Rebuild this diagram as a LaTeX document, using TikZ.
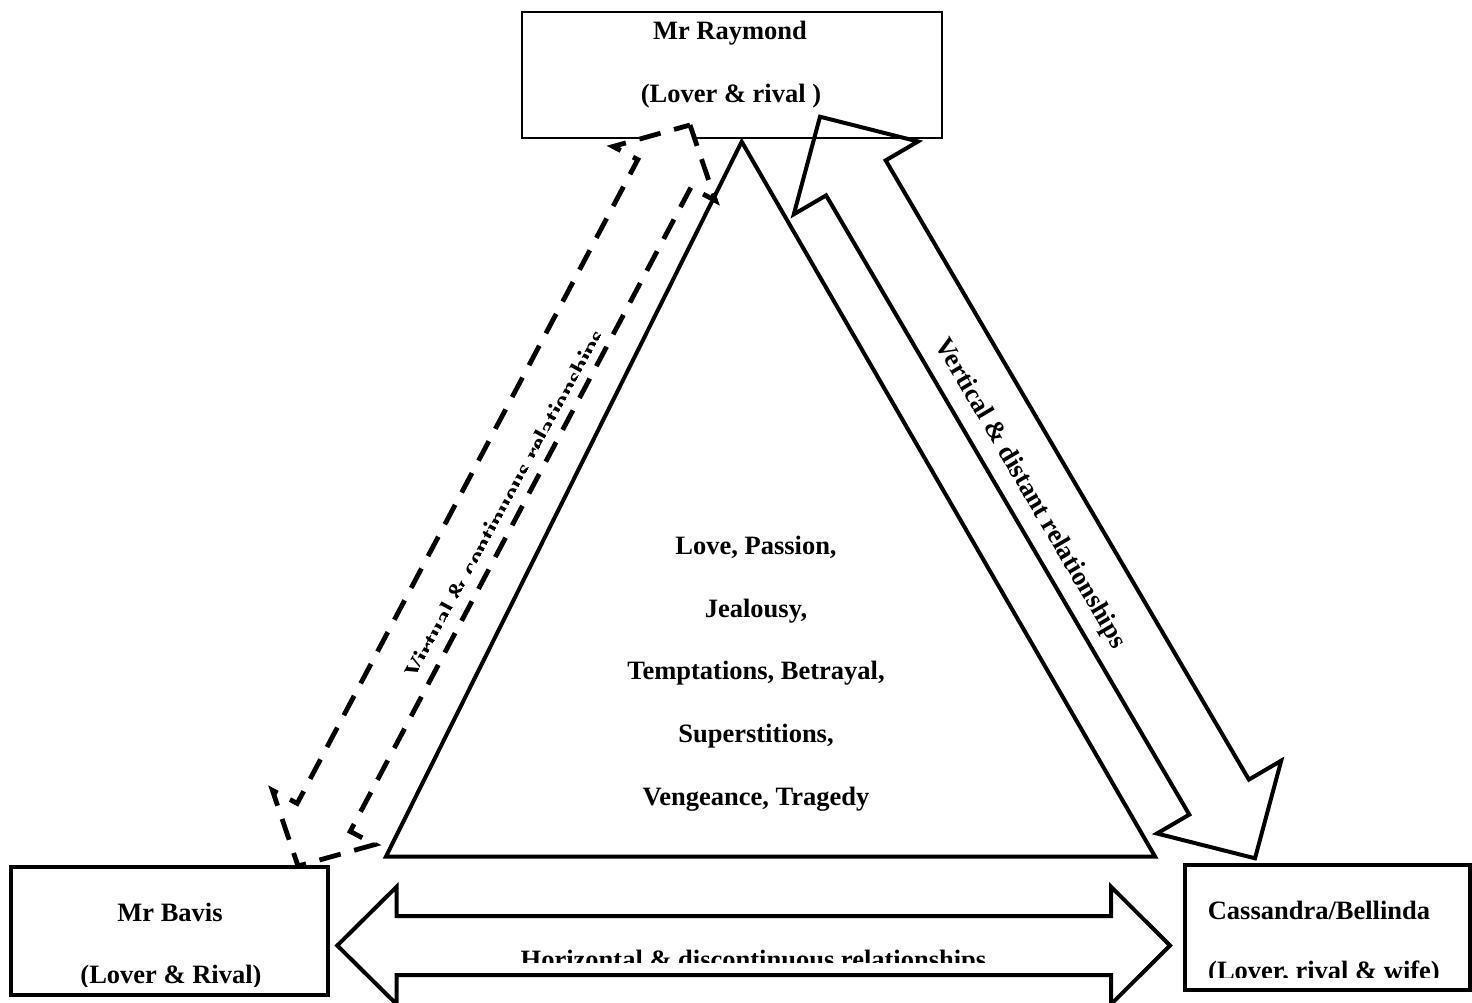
\documentclass[tikz,border=0pt]{standalone}
\usepackage{fontspec}
\setmainfont{Liberation Serif}
\begin{document}
\tikzset{
  lbl/.style={font=\fontsize{26.5}{30}\selectfont\bfseries, inner sep=0pt, anchor=base},
  boxshape/.style={draw, inner sep=0pt, outer sep=0pt, anchor=north west},
  blockarrow/.style={draw, line width=4pt, line join=miter},
  dasharrow/.style={draw, line width=4.8pt, dash pattern=on 22pt off 14pt, fill=white, line join=miter}
}
\begin{tikzpicture}[x=1pt,y=-1pt]
\useasboundingbox (0,0) rectangle (1472,1003);
\clip (0,0) rectangle (1472,1003);

% top box
\node[boxshape, line width=2pt, minimum width=420pt, minimum height=125.7pt] (raymond) at (522,12) {};

% dashed double arrow (virtual & continuous)
\path[dasharrow] (690,125) -- (715.6,200.7) -- (690.8,187.6) -- (350.2,831.4) -- (375.0,844.5)
  -- (298,866) -- (272.4,790.3) -- (297.2,803.4) -- (637.8,159.6) -- (613.0,146.5) -- cycle;

% triangle
\coordinate (apex) at (741.7,141.7);
\coordinate (bl) at (386,856.5);
\coordinate (br) at (1155,856.5);
\draw[line width=4pt, line join=miter] (apex) -- (br) -- (bl) -- cycle;

% vertical double arrow
\path[blockarrow] (820,116.7) -- (918.0,141.5) -- (885.7,160.4) -- (1248.9,779.6) -- (1281.2,760.7)
  -- (1255,858.3) -- (1157.0,833.5) -- (1189.3,814.6) -- (826.1,195.4) -- (793.8,214.3) -- cycle;

% horizontal double arrow
\path[blockarrow] (337.3,945.5) -- (396.7,886.7) -- (396.7,916) -- (1111,916) -- (1111,886.7)
  -- (1170,945.5) -- (1111,1004.3) -- (1111,975) -- (396.7,975) -- (396.7,1004.3) -- cycle;

% bottom boxes
\node[boxshape, line width=4pt, fill=white, minimum width=317.3pt, minimum height=128.3pt] (bavis) at (11,866.7) {};
\node[boxshape, line width=4pt, fill=white, minimum width=285pt, minimum height=125pt] (cassandra) at (1185,865) {};

% texts
\node[lbl] (ray1) at (730,40) {Mr Raymond};
\node[lbl] (ray2) at (731,103) {(Lover \& rival )};

\node[lbl] (c1) at (756,554) {Love, Passion,};
\node[lbl] (c2) at (756,617) {Jealousy,};
\node[lbl] (c3) at (756,679) {Temptations, Betrayal,};
\node[lbl] (c4) at (756,742) {Superstitions,};
\node[lbl] (c5) at (756,805) {Vengeance, Tragedy};

\node[lbl] (bav1) at (170,921) {Mr Bavis};
\begin{scope}
  \clip (15,950) rectangle (325,986.5);
  \node[lbl] (bav2) at (171,983) {(Lover \& Rival)};
\end{scope}

\node[lbl] (cas1) at (1319,919.3) {Cassandra/Bellinda};
\begin{scope}
  \clip (1190,950) rectangle (1465,977.3);
  \node[lbl] (cas2) at (1324,979.2) {(Lover, rival \& wife)};
\end{scope}

\begin{scope}
  \clip (400,935) rectangle (1110,962);
  \node[lbl] (hor) at (753.5,968.2) {Horizontal \& discontinuous relationships};
\end{scope}

\node[lbl, anchor=center, rotate=-59.6] (vert) at (1030,494) {Vertical \& distant relationships};

\begin{scope}[shift={(513.7,508.5)}, rotate=61.4]
  \clip (-260pt,7pt) rectangle (260pt,40pt);
  \node[lbl, transform shape] (virt) at (0pt,0pt) {Virtual \& continuous relationships};
\end{scope}
\end{tikzpicture}
\end{document}
